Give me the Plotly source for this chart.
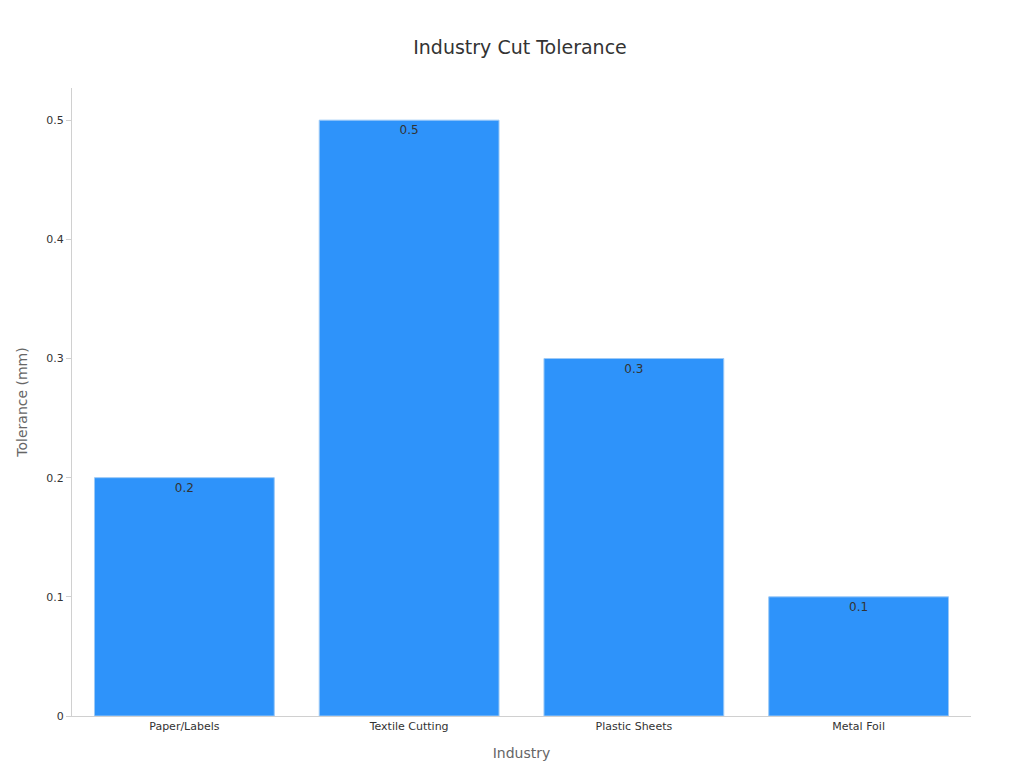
import plotly.graph_objects as go

categories = ["Paper/Labels", "Textile Cutting", "Plastic Sheets", "Metal Foil"]
values = [0.2, 0.5, 0.3, 0.1]
labels = ["0.2", "0.5", "0.3", "0.1"]

fig = go.Figure(go.Bar(
    x=categories, y=values, text=labels, textposition="inside",
    insidetextanchor="end",
    textfont=dict(color="#333333", size=12),
    marker=dict(color="#2E93FA", line=dict(color="#9cc9f7", width=1)),
    width=0.8,
))
fig.update_layout(
    width=1024, height=768,
    margin=dict(l=64, r=61, t=80, b=60),
    paper_bgcolor="white", plot_bgcolor="white",
    font=dict(family="DejaVu Sans", size=12, color="#333333"),
    title=dict(text="Industry Cut Tolerance", x=0.5, y=0.958, xanchor="center",
               font=dict(size=19, color="#333333")),
    showlegend=False,
)
fig.update_xaxes(title=dict(text="Industry", font=dict(size=14, color="#666666")),
                 showline=True, linecolor="#d0d0d0", ticks="", tickfont=dict(size=11))
fig.update_yaxes(title=dict(text="Tolerance (mm)", font=dict(size=14, color="#666666")),
                 range=[0, 0.527], dtick=0.1, tickvals=[0, 0.1, 0.2, 0.3, 0.4, 0.5],
                 ticktext=["0", "0.1", "0.2", "0.3", "0.4", "0.5"],
                 showline=True, linecolor="#d0d0d0", ticks="outside", ticklen=5,
                 tickcolor="#d0d0d0", showgrid=False, zeroline=False, tickfont=dict(size=11))
fig.write_html("out.html")
